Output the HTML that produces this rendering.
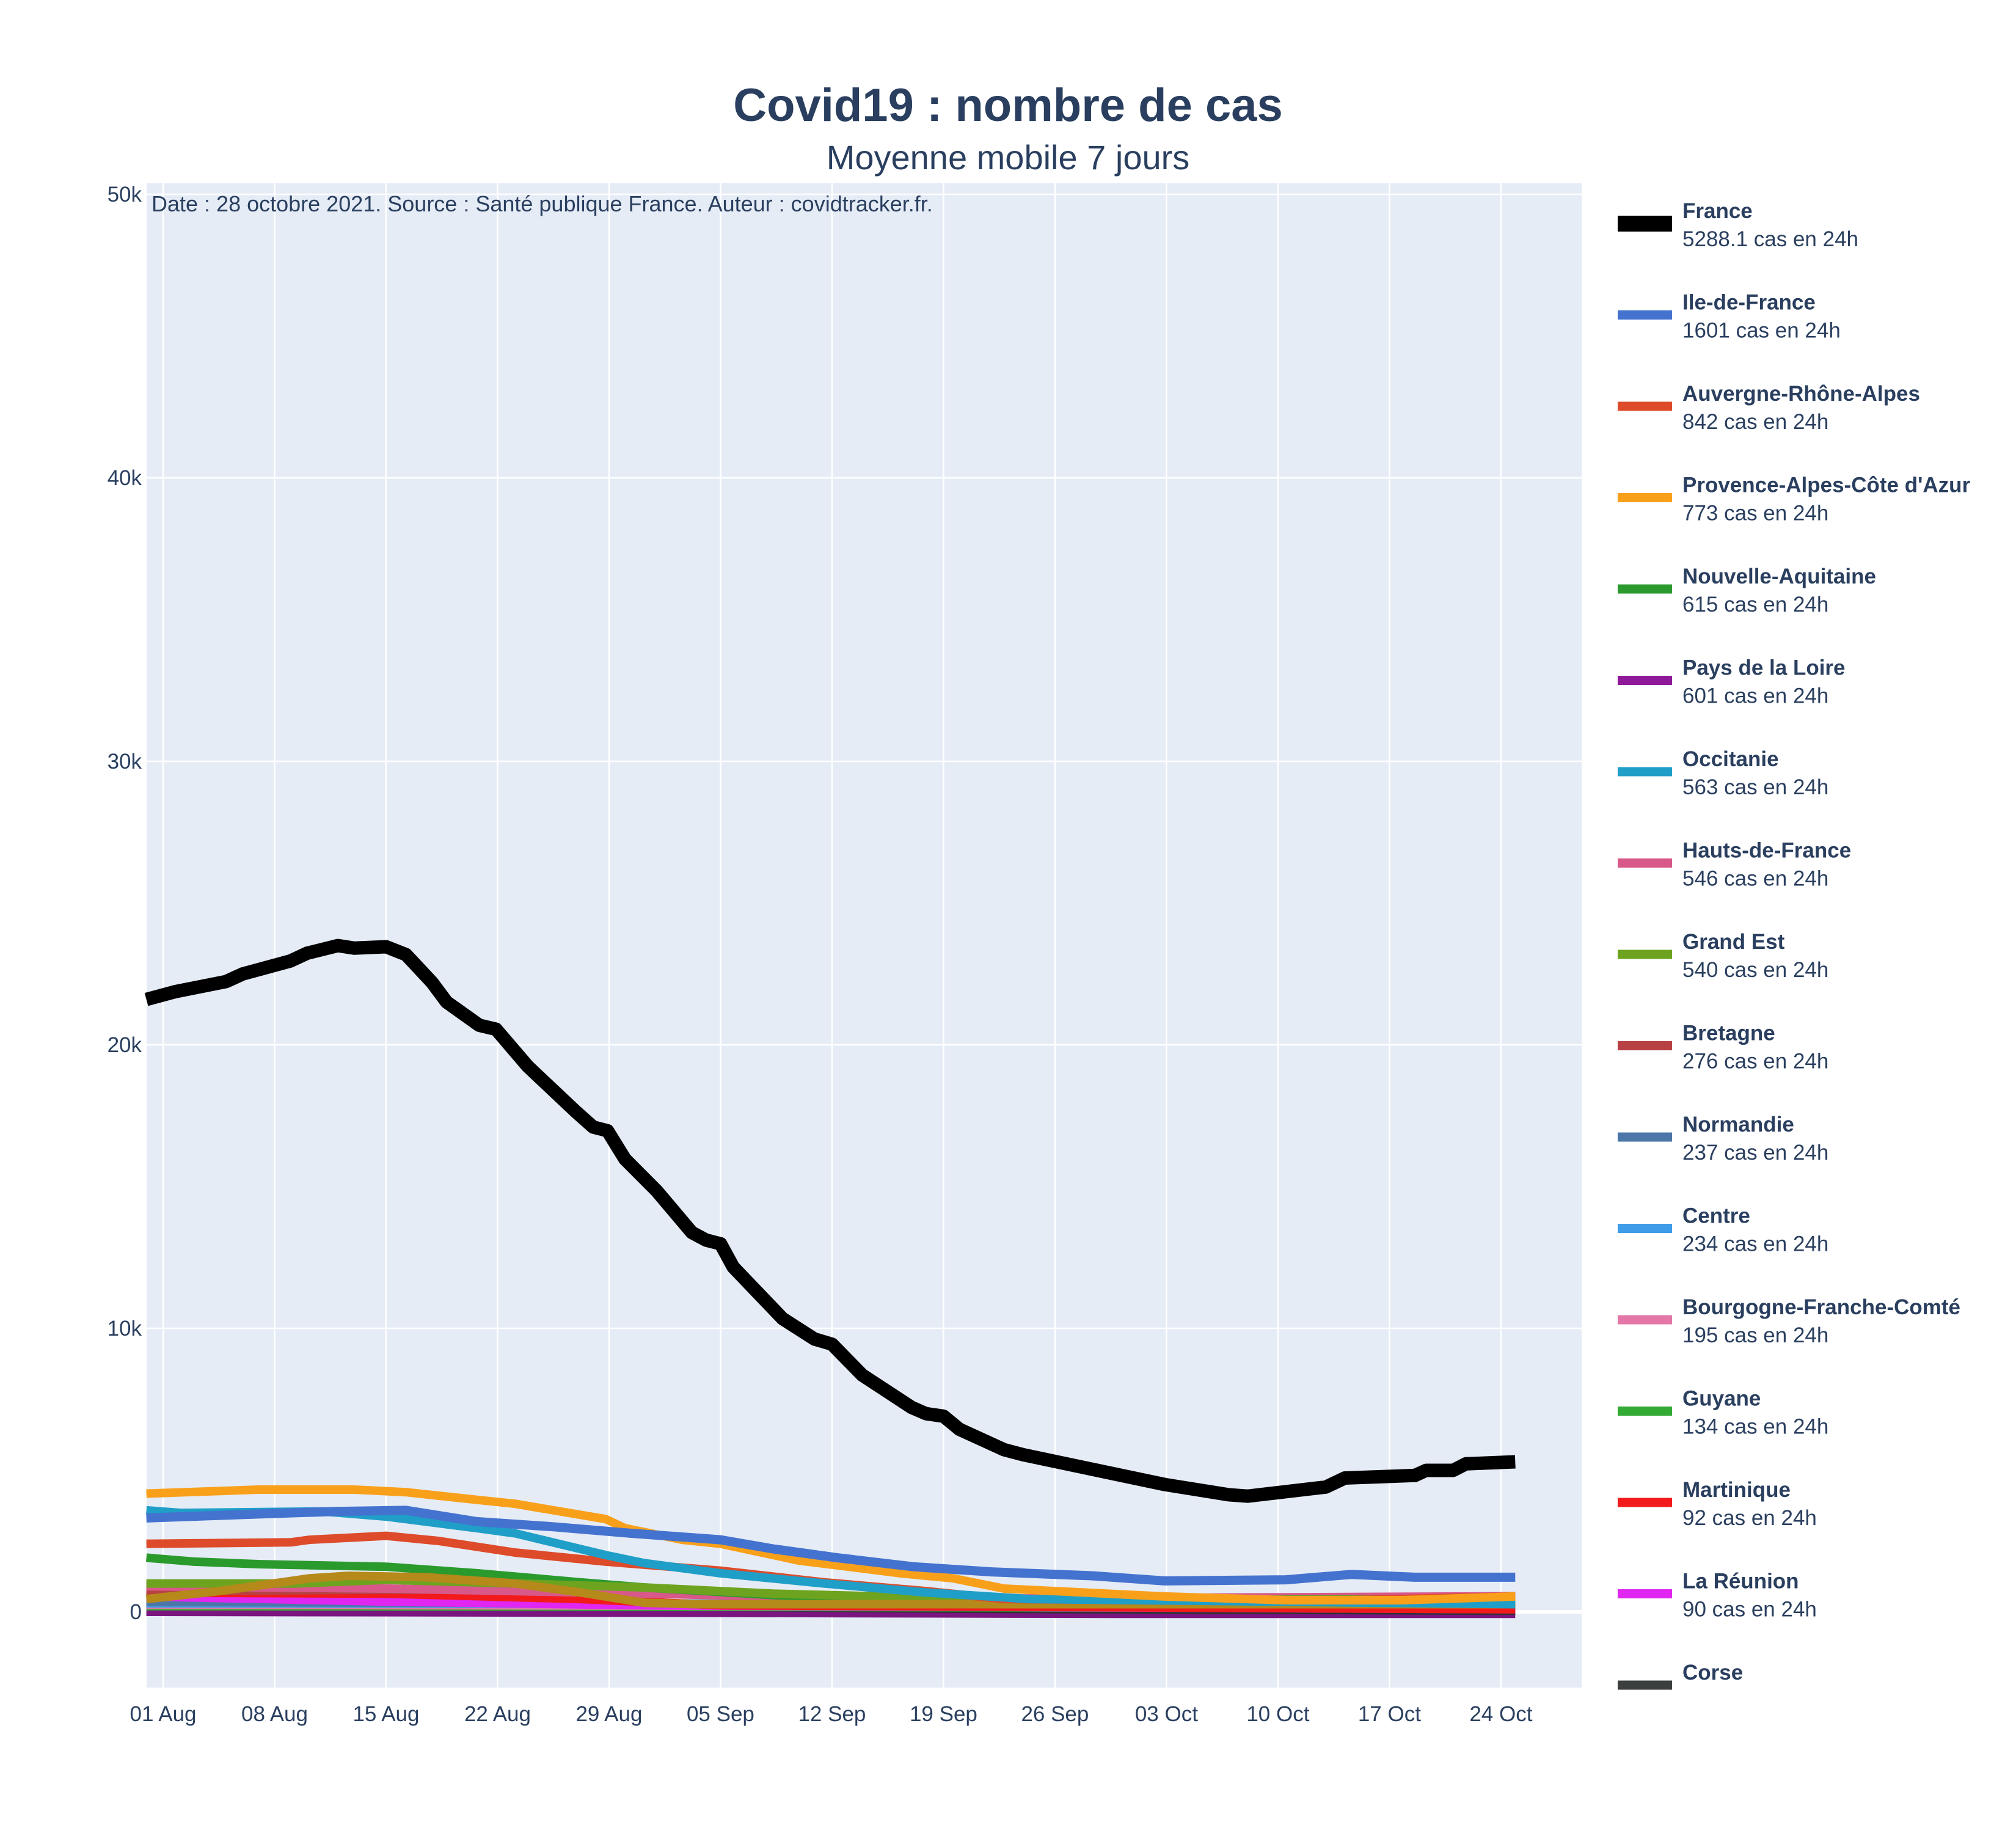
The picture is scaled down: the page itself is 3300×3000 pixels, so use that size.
<!DOCTYPE html>
<html><head><meta charset="utf-8"><style>
html,body{margin:0;padding:0;background:#fff}
svg{display:block}
text{font-family:"Liberation Sans",sans-serif;fill:#2a3f5f}
</style></head><body>
<svg id="chart" width="3300" height="3000" viewBox="0 0 3300 3000" xmlns="http://www.w3.org/2000/svg">
<rect x="240" y="300" width="2349" height="2462" fill="#e5ecf6"/>
<g id="grid"></g>
<g id="series"></g>
<g id="axes"></g>
<g id="legend"></g>
<text x="1650" y="198" text-anchor="middle" font-size="76" font-weight="bold">Covid19 : nombre de cas</text>
<text x="1650" y="277" text-anchor="middle" font-size="56">Moyenne mobile 7 jours</text>
<text x="248" y="346" font-size="36">Date : 28 octobre 2021. Source : Santé publique France. Auteur : covidtracker.fr.</text>
</svg>
<script>
// ---- data (days since 01 Aug 2021, values in thousands of cases) ----
const xTickLabels = ["01 Aug","08 Aug","15 Aug","22 Aug","29 Aug","05 Sep","12 Sep","19 Sep","26 Sep","03 Oct","10 Oct","17 Oct","24 Oct"];
const yTickValues = [0,10,20,30,40,50];
const yTickLabels = ["0","10k","20k","30k","40k","50k"];

const franceDays = [-1.05,0.73,3.95,5.0,8.0,9.04,10.98,12.0,14.0,15.25,16.9,17.8,19.85,20.9,22.9,25.9,27.0,27.9,29.0,31.0,33.2,34.1,35.0,35.8,38.9,40.9,42.0,43.9,47.0,47.9,49.0,50.0,52.8,54.0,62.9,66.9,68.1,73.0,74.2,78.6,79.3,81.0,81.8,84.9];
const franceVals = [21.6,21.87,22.23,22.5,22.96,23.23,23.5,23.41,23.46,23.18,22.19,21.51,20.69,20.55,19.24,17.65,17.1,16.97,15.97,14.84,13.38,13.11,12.98,12.16,10.34,9.62,9.44,8.35,7.21,6.99,6.9,6.44,5.72,5.54,4.49,4.13,4.08,4.4,4.72,4.81,4.99,4.99,5.22,5.29];

const idfDays = [-1.05,6.0,10.8,15.25,19.7,24.5,29.4,35.0,38.3,42.3,47.1,52.0,58.4,62.9,70.5,74.6,78.6,84.9];
const idfVals = [3.31,3.45,3.54,3.58,3.18,3.0,2.77,2.54,2.22,1.91,1.59,1.41,1.27,1.09,1.13,1.32,1.22,1.22];

const pacaDays = [-1.05,6.0,12.0,15.25,19.7,22.1,27.8,29.0,32.6,35.0,39.9,46.3,49.6,52.8,62.9,70.5,77.8,84.9];
const pacaVals = [4.17,4.31,4.31,4.22,3.95,3.81,3.27,2.95,2.54,2.4,1.81,1.36,1.18,0.82,0.54,0.41,0.41,0.54];

const araDays = [-1.05,8.0,9.2,14.0,17.3,22.1,27.8,35.0,41.5,47.9,52.8,70.5,84.9];
const araVals = [2.4,2.45,2.54,2.68,2.5,2.09,1.77,1.45,1.04,0.73,0.45,0.36,0.54];

const occDays = [-1.05,1.13,10.0,14.0,19.7,22.1,27.8,30.2,35.0,41.5,47.9,54.4,84.9];
const occVals = [3.58,3.49,3.54,3.36,2.95,2.77,2.0,1.72,1.36,1.0,0.68,0.45,0.27];

const naDays = [-1.05,1.94,5.97,14.0,19.7,26.2,30.2,38.3,54.4,84.9];
const naVals = [1.91,1.77,1.68,1.59,1.36,1.04,0.86,0.59,0.32,0.32];

const geDays = [-1.05,8.4,14.0,22.1,30.2,38.3,54.4,84.9];
const geVals = [1.0,1.0,1.13,1.0,0.86,0.64,0.41,0.45];

const guaDays = [-1.05,3.55,9.2,11.6,16.5,22.1,26.2,30.2,33.4,84.9];
const guaVals = [0.45,0.73,1.18,1.27,1.22,1.0,0.68,0.32,0.27,0.27];

const hdfDays = [-1.05,14.0,30.2,46.3,84.9];
const hdfVals = [0.9,0.82,0.64,0.45,0.55];

const bretDays = [-1.05,22.1,40.0,60.0,84.9];
const bretVals = [0.73,0.8,0.55,0.35,0.3];

const martDays = [-1.05,14.0,26.2,35.0,84.9];
const martVals = [0.68,0.64,0.45,0.23,0.09];

const reuDays = [-1.05,14.0,30.2,84.9];
const reuVals = [0.54,0.36,0.23,0.09];

const corseDays = [-1.05,20.0,50.0,84.9];
const corseVals = [0.3,0.25,0.12,0.05];

const pdlDays = [-1.05,30.0,60.0,84.9];
const pdlVals = [0.15,0.12,0.08,0.08];

const smallDays = [-1.05,30.0,60.0,84.9];
const normVals = [0.35,0.3,0.2,0.24];
const centreVals = [0.3,0.28,0.2,0.23];
const bfcVals = [0.25,0.22,0.16,0.2];
const guyVals = [0.2,0.18,0.15,0.13];

const legendNames = ["France","Ile-de-France","Auvergne-Rhône-Alpes","Provence-Alpes-Côte d'Azur","Nouvelle-Aquitaine","Pays de la Loire","Occitanie","Hauts-de-France","Grand Est","Bretagne","Normandie","Centre","Bourgogne-Franche-Comté","Guyane","Martinique","La Réunion","Corse"];
const legendSubs = ["5288.1 cas en 24h","1601 cas en 24h","842 cas en 24h","773 cas en 24h","615 cas en 24h","601 cas en 24h","563 cas en 24h","546 cas en 24h","540 cas en 24h","276 cas en 24h","237 cas en 24h","234 cas en 24h","195 cas en 24h","134 cas en 24h","92 cas en 24h","90 cas en 24h",""];
const legendColors = ["#000000","#4472cf","#dd4b2a","#f9a01b","#2b9a2d","#8e1a9a","#1f9fc8","#d8588a","#6ea31f","#b84143","#4a77a8","#3e9ce8","#e477a8","#33aa33","#f21a1a","#e026f0","#3b3f3d"];

// ---- scales ----
const NS = "http://www.w3.org/2000/svg";
function xs(d){ return 267 + d*26.07; }
function ys(v){ return 2638 - v*46.4; }
function mk(tag, attrs, parent){
  const e = document.createElementNS(NS, tag);
  for (const k in attrs) e.setAttribute(k, attrs[k]);
  parent.appendChild(e);
  return e;
}
const grid = document.getElementById('grid');
const axes = document.getElementById('axes');
const series = document.getElementById('series');
const legend = document.getElementById('legend');

xTickLabels.forEach((lab,i)=>{
  const x = xs(i*7);
  const g = mk('line',{x1:x,x2:x,y1:300,y2:2762,stroke:'#fff','stroke-width':2.5},grid);
  
  
  const t = mk('text',{x:x,y:2817,'text-anchor':'middle','font-size':35},axes);
  t.textContent = lab;
  
  
});
yTickValues.forEach((v,i)=>{
  const y = ys(v);
  const g = mk('line',{x1:240,x2:2589,y1:y,y2:y,stroke:'#fff','stroke-width':v===0?6:2.5},grid);
  
  
  const t = mk('text',{x:232,y:y+12,'text-anchor':'end','font-size':35},axes);
  t.textContent = yTickLabels[i];
  
  
});

function drawLine(days, vals, color, w, name){
  const pts = days.map((d,i)=>xs(d).toFixed(1)+','+ys(vals[i]).toFixed(1)).join(' ');
  const p = mk('polyline',{points:pts,fill:'none',stroke:color,'stroke-width':w,'stroke-linejoin':'round'},series);
  
  
}
drawLine(pdlDays,pdlVals,'#7a1580',28,'line-pays-de-la-loire');
drawLine(corseDays,corseVals,'#2f3133',15,'line-corse');
drawLine(smallDays,guyVals,'#33aa33',14,'line-guyane');
drawLine(smallDays,bfcVals,'#e477a8',14,'line-bourgogne-franche-comte');
drawLine(smallDays,centreVals,'#3e9ce8',14,'line-centre');
drawLine(smallDays,normVals,'#4a77a8',14,'line-normandie');
drawLine(reuDays,reuVals,'#e026f0',14,'line-la-reunion');
drawLine(martDays,martVals,'#f21a1a',14,'line-martinique');
drawLine(bretDays,bretVals,'#b84143',14,'line-bretagne');
drawLine(hdfDays,hdfVals,'#d8588a',14,'line-hauts-de-france');
drawLine(naDays,naVals,'#2b9a2d',14,'line-nouvelle-aquitaine');
drawLine(geDays,geVals,'#6ea31f',14,'line-grand-est');
drawLine(guaDays,guaVals,'#b5891a',14,'line-guadeloupe');
drawLine(araDays,araVals,'#dd4b2a',14,'line-auvergne-rhone-alpes');
drawLine(occDays,occVals,'#1f9fc8',14,'line-occitanie');
drawLine(pacaDays,pacaVals,'#f9a01b',14,'line-paca');
drawLine(idfDays,idfVals,'#4472cf',15,'line-ile-de-france');
drawLine(franceDays,franceVals,'#000000',22,'line-france');

legendNames.forEach((n,i)=>{
  const base = 357 + i*149.5;
  const l = mk('line',{x1:2648,x2:2737,y1:base+9,y2:base+9,stroke:legendColors[i],'stroke-width':i===0?26:15},legend);
  
  
  const t = mk('text',{x:2754,y:base,'font-size':35,'font-weight':'bold'},legend);
  t.textContent = n;
  
  
  if (legendSubs[i]) {
    const s = mk('text',{x:2754,y:base+46,'font-size':35},legend);
    s.textContent = legendSubs[i];
    
    
  }
});
</script>
</body></html>
